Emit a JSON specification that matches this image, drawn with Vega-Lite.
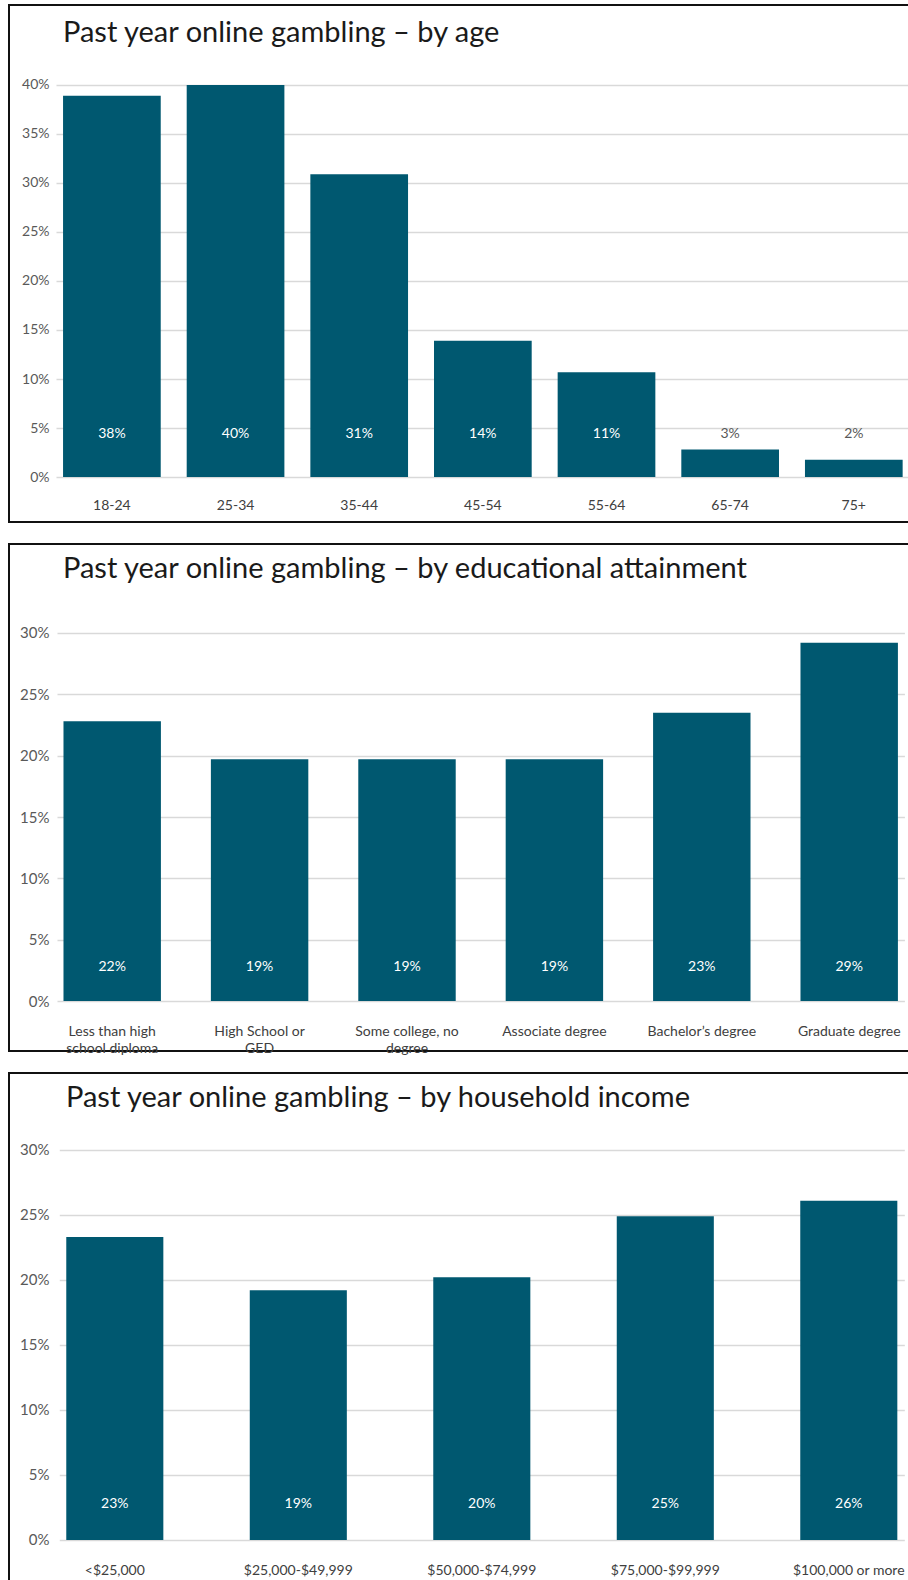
{
  "$schema": "https://vega.github.io/schema/vega-lite/v6.json",
  "padding": {"left": 8, "top": 4, "right": 0, "bottom": 0},
  "background": "white",
  "bounds": "flush",
  "spacing": 22,
  "config": {
    "font": "Lato",
    "view": {"stroke": "#111111", "strokeWidth": 2},
    "axis": {"domain": false, "ticks": false, "tickSize": 0, "title": null, "labelFont": "Lato"},
    "title": {"anchor": "start", "frame": "group", "fontSize": 29, "font": "Lato", "fontWeight": "normal", "color": "#1a1a1a"}
  },
  "vconcat": [
    {
      "width": 904,
      "height": 517,
      "title": {"text": "Past year online gambling – by age", "dx": 54, "offset": -43},
      "data": {"values": [
        {"group": "18-24", "value": 38.9, "label": "38%"},
        {"group": "25-34", "value": 40.0, "label": "40%"},
        {"group": "35-44", "value": 30.9, "label": "31%"},
        {"group": "45-54", "value": 13.9, "label": "14%"},
        {"group": "55-64", "value": 10.7, "label": "11%"},
        {"group": "65-74", "value": 2.8, "label": "3%"},
        {"group": "75+", "value": 1.75, "label": "2%"}
      ]},
      "layer": [
        {
          "mark": {"type": "bar", "color": "#005870"},
          "encoding": {
            "x": {"field": "group", "type": "nominal", "sort": null,
              "scale": {"range": [47, 900.7], "paddingInner": 0.21, "paddingOuter": 0.057},
              "axis": {"offset": -24, "labelPadding": 0, "labelFontSize": 14, "labelColor": "#404040", "labelAngle": 0, "grid": false}},
            "y": {"field": "value", "type": "quantitative",
              "scale": {"domain": [-4.59, 48.16], "nice": false, "zero": false},
              "axis": {"values": [0, 5, 10, 15, 20, 25, 30, 35, 40], "offset": -40, "labelPadding": 0, "labelFontSize": 14, "labelColor": "#595959", "grid": true, "gridColor": "#d9d9d9", "gridWidth": 1.5, "labelExpr": "datum.value + '%'"}},
            "y2": {"datum": 0}
          }
        },
        {
          "mark": {"type": "text", "fontSize": 14, "baseline": "middle", "font": "Lato"},
          "encoding": {
            "x": {"field": "group", "type": "nominal", "sort": null},
            "y": {"datum": 4.4},
            "text": {"field": "label"},
            "color": {"condition": {"test": "datum.value > 5", "value": "#ffffff"}, "value": "#595959"}
          }
        }
      ]
    },
    {
      "width": 904,
      "height": 507,
      "title": {"text": "Past year online gambling – by educational attainment", "dx": 54, "offset": -40},
      "data": {"values": [
        {"group": "Less than high school diploma", "value": 22.8, "label": "22%"},
        {"group": "High School or GED", "value": 19.7, "label": "19%"},
        {"group": "Some college, no degree", "value": 19.7, "label": "19%"},
        {"group": "Associate degree", "value": 19.7, "label": "19%"},
        {"group": "Bachelor’s degree", "value": 23.5, "label": "23%"},
        {"group": "Graduate degree", "value": 29.2, "label": "29%"}
      ]},
      "layer": [
        {
          "mark": {"type": "bar", "color": "#005870"},
          "encoding": {
            "x": {"field": "group", "type": "nominal", "sort": null,
              "scale": {"range": [48, 895.4], "paddingInner": 0.339, "paddingOuter": 0.044},
              "axis": {"offset": -27, "labelPadding": 0, "labelFontSize": 14, "labelColor": "#404040", "labelAngle": 0, "grid": false, "labelLineHeight": 17,
                "labelExpr": "datum.value == 'Less than high school diploma' ? ['Less than high', 'school diploma'] : datum.value == 'High School or GED' ? ['High School or', 'GED'] : datum.value == 'Some college, no degree' ? ['Some college, no', 'degree'] : datum.value"}},
            "y": {"field": "value", "type": "quantitative",
              "scale": {"domain": [-4.07, 37.25], "nice": false, "zero": false},
              "axis": {"values": [0, 5, 10, 15, 20, 25, 30], "offset": -40, "labelPadding": 0, "labelFontSize": 15, "labelColor": "#595959", "grid": true, "gridColor": "#d9d9d9", "gridWidth": 1.5, "labelExpr": "datum.value + '%'"}},
            "y2": {"datum": 0}
          }
        },
        {
          "mark": {"type": "text", "fontSize": 14, "baseline": "middle", "font": "Lato"},
          "encoding": {
            "x": {"field": "group", "type": "nominal", "sort": null},
            "y": {"datum": 2.8},
            "text": {"field": "label"},
            "color": {"condition": {"test": "datum.value > 5", "value": "#ffffff"}, "value": "#595959"}
          }
        }
      ]
    },
    {
      "width": 904,
      "height": 510,
      "title": {"text": "Past year online gambling – by household income", "dx": 57, "offset": -40},
      "data": {"values": [
        {"group": "<$25,000", "value": 23.3, "label": "23%"},
        {"group": "$25,000-$49,999", "value": 19.2, "label": "19%"},
        {"group": "$50,000-$74,999", "value": 20.2, "label": "20%"},
        {"group": "$75,000-$99,999", "value": 24.9, "label": "25%"},
        {"group": "$100,000 or more", "value": 26.1, "label": "26%"}
      ]},
      "layer": [
        {
          "mark": {"type": "bar", "color": "#005870"},
          "encoding": {
            "x": {"field": "group", "type": "nominal", "sort": null,
              "scale": {"range": [50.3, 895.3], "paddingInner": 0.471, "paddingOuter": 0.038},
              "axis": {"offset": -20, "labelPadding": 0, "labelFontSize": 14, "labelColor": "#404040", "labelAngle": 0, "grid": false}},
            "y": {"field": "value", "type": "quantitative",
              "scale": {"domain": [-3.31, 35.92], "nice": false, "zero": false},
              "axis": {"values": [0, 5, 10, 15, 20, 25, 30], "offset": -40, "labelPadding": 0, "labelFontSize": 15, "labelColor": "#595959", "grid": true, "gridColor": "#d9d9d9", "gridWidth": 1.5, "labelExpr": "datum.value + '%'"}},
            "y2": {"datum": 0}
          }
        },
        {
          "mark": {"type": "text", "fontSize": 14, "baseline": "middle", "font": "Lato"},
          "encoding": {
            "x": {"field": "group", "type": "nominal", "sort": null},
            "y": {"datum": 2.8},
            "text": {"field": "label"},
            "color": {"condition": {"test": "datum.value > 5", "value": "#ffffff"}, "value": "#595959"}
          }
        }
      ]
    }
  ]
}
